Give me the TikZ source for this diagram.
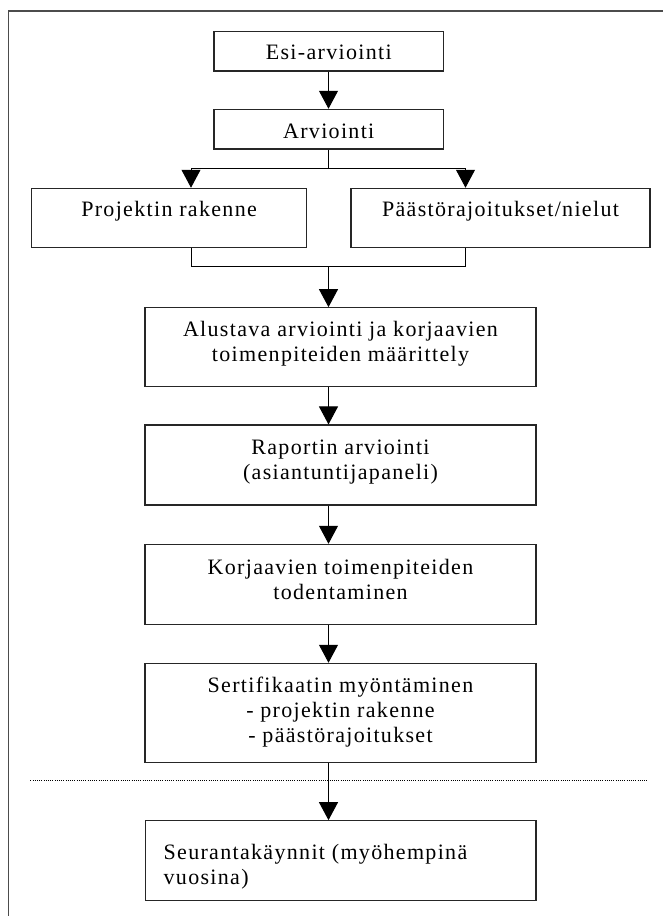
\documentclass[tikz,border=0pt]{standalone}
\usepackage{fontspec}
\setmainfont{Liberation Serif}[LetterSpace=6]
\usetikzlibrary{arrows.meta,calc}

\begin{document}
\begin{tikzpicture}[
    x=1pt, y=-1pt,
    box/.style={draw=black!85, line width=1.1pt, inner sep=0pt, fill=white},
    boxtext/.style={inner sep=0pt, anchor=north, align=center,
      font=\fontsize{22}{25}\selectfont},
    conn/.style={draw=black, line width=1pt},
    arr/.style={conn, -{Triangle[length=18pt,width=19pt]}},
    frame/.style={draw=black!70, line width=1.6pt},
    separator/.style={draw=black, line width=1.3pt, dash pattern=on 1pt off 1.2pt}
  ]
  \useasboundingbox (0,0) rectangle (663,916);

  % outer frame (open on the right and at the bottom)
  \draw[frame] (8.5,916) -- (8.5,10.7) -- (663,10.7);

  % reference positions of the connectors
  \coordinate (spine) at (328.5,0);
  \coordinate (bl) at (191,0);
  \coordinate (br) at (465.5,0);
  \coordinate (fork) at (328.5,168.3);
  \coordinate (join) at (328.5,266.7);

  % boxes
  \node[box, minimum width=229.5pt, minimum height=39.3pt] (esi)  at (328.75,51.35) {};
  \node[box, minimum width=229.5pt, minimum height=39.7pt] (arv)  at (328.75,129.15) {};
  \node[box, minimum width=274.8pt, minimum height=59pt]   (proj) at (169.1,217.8) {};
  \node[box, minimum width=299pt,   minimum height=59pt]   (paas) at (500.5,217.8) {};
  \node[box, minimum width=391pt,   minimum height=79pt]   (alus) at (340.5,347.2) {};
  \node[box, minimum width=391pt,   minimum height=80pt]   (rap)  at (340.5,465) {};
  \node[box, minimum width=391pt,   minimum height=80pt]   (korj) at (340.5,584.3) {};
  \node[box, minimum width=391pt,   minimum height=99pt]   (sert) at (340.5,712.8) {};
  \node[box, minimum width=390.5pt, minimum height=80pt]   (seur) at (340.75,860.7) {};

  % box texts
  \node[boxtext] (esiT)  at ($(esi.north)+(0,13.5)$)  {Esi-arviointi};
  \node[boxtext] (arvT)  at ($(arv.north)+(0,15)$) {Arviointi};
  \node[boxtext] (projT) at ($(proj.north)+(0,13.5)$) {Projektin rakenne};
  \node[boxtext] (paasT) at ($(paas.north)+(0,13.5)$) {Päästörajoitukset/nielut};
  \node[boxtext] (alusT) at ($(alus.north)+(0,14.2)$) {Alustava arviointi ja korjaavien\\toimenpiteiden määrittely};
  \node[boxtext] (rapT)  at ($(rap.north)+(0,15.5)$)  {Raportin arviointi\\(asiantuntijapaneli)};
  \node[boxtext] (korjT) at ($(korj.north)+(0,14.9)$) {Korjaavien toimenpiteiden\\todentaminen};
  \node[boxtext] (sertT) at ($(sert.north)+(0,14.2)$) {Sertifikaatin myöntäminen\\- projektin rakenne\\- päästörajoitukset};
  \node[boxtext, anchor=north west, align=left] (seurT) at ($(seur.north west)+(18.5,23.8)$)
    {Seurantakäynnit (myöhempinä\\vuosina)};

  % connectors
  \draw[arr] (esi.south -| spine) -- (arv.north -| spine);
  \draw[conn] (arv.south -| spine) -- (fork);
  \draw[arr] (fork) -| (proj.north -| bl);
  \draw[arr] (fork) -| (paas.north -| br);
  \draw[conn] (proj.south -| bl) |- (join);
  \draw[conn] (paas.south -| br) |- (join);
  \draw[arr] (join) -- (alus.north -| spine);
  \draw[arr] (alus.south -| spine) -- (rap.north -| spine);
  \draw[arr] (rap.south -| spine) -- (korj.north -| spine);
  \draw[arr] (korj.south -| spine) -- (sert.north -| spine);
  \draw[arr] (sert.south -| spine) -- (seur.north -| spine);

  % dotted separator
  \coordinate (sepL) at (30.4,780.5);
  \coordinate (sepR) at (647,780.5);
  \draw[separator] (sepL) -- (sepR);
\end{tikzpicture}
\end{document}
